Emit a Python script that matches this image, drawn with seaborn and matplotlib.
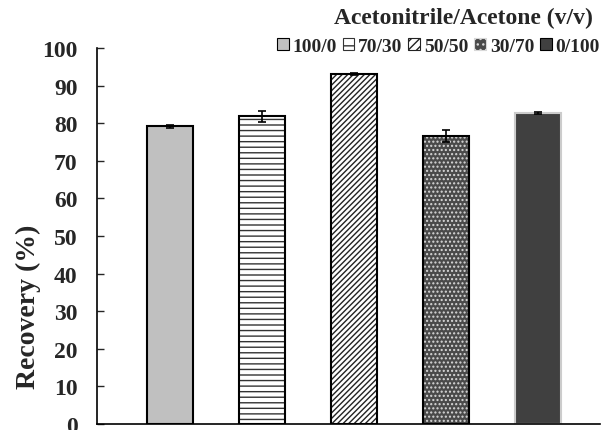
import numpy as np
import pandas as pd
import matplotlib
matplotlib.use('Agg')
import matplotlib.pyplot as plt
from matplotlib.patches import Patch
import seaborn as sns

# Data
ratios = ['100/0', '70/30', '50/50', '30/70', '0/100']
recovery = [79.2, 81.9, 93.2, 76.7, 82.7]
errors = [0.5, 1.4, 0.2, 1.6, 0.3]

faces = ['#c0c0c0', 'white', 'white', '#4a4a4a', '#404040']
hatches = ['', '---', '//////', '....', '']
hatch_cols = ['black', '#333333', '#222222', '#d8d8d8', 'black']

sns.set_style('white')
plt.rcParams['font.family'] = ['Liberation Serif', 'DejaVu Serif']
plt.rcParams['font.weight'] = 'bold'
plt.rcParams['hatch.linewidth'] = 1.0

df = pd.DataFrame({'ratio': ratios, 'recovery': recovery})

fig = plt.figure(figsize=(6.14, 4.31), dpi=100)
ax = fig.add_axes([0.158, 0.0146, 0.819, 0.871])

sns.barplot(data=df, x='ratio', y='recovery', order=ratios, width=0.5,
            color='white', errorbar=None, ax=ax)

for p, fc, h, hc in zip(ax.patches, faces, hatches, hatch_cols):
    p.set_facecolor(fc)
    p.set_hatch(h)
    p.set_edgecolor(hc)
    p.set_linewidth(0)
    # outline on top of the hatched patch
    outline = plt.Rectangle(p.get_xy(), p.get_width(), p.get_height(),
                            fill=False, edgecolor='black' if fc != '#404040' else '#cccccc',
                            linewidth=1.5, zorder=p.get_zorder() + 0.1)
    ax.add_patch(outline)

ax.errorbar(x=np.arange(len(ratios)), y=recovery, yerr=errors, fmt='none',
            ecolor='black', elinewidth=1.2, capsize=3, capthick=1.2, zorder=5)

ax.set_xlim(-0.79, 4.67)
ax.set_ylim(0, 100)
ax.set_yticks(range(0, 101, 10))
ax.set_xticks([])
ax.set_xlabel('')
ax.set_ylabel('Recovery (%)', fontsize=20, fontweight='bold', va='center')
ax.yaxis.set_label_coords(-0.137, 0.313)
ax.tick_params(axis='y', direction='in', length=5, width=1, left=True,
               labelsize=17, pad=14)
for lab in ax.get_yticklabels():
    lab.set_fontweight('bold')

for s in ['top', 'right']:
    ax.spines[s].set_visible(False)
for s in ['left', 'bottom']:
    ax.spines[s].set_color('black')
    ax.spines[s].set_linewidth(1.2)

handles = [Patch(facecolor=fc, edgecolor=hc, hatch=h, linewidth=0.8)
           for fc, h, hc in zip(faces, ['', '--', '////', '...', ''], hatch_cols)]
leg = ax.legend(handles, ratios, ncol=5, loc='center right',
                bbox_to_anchor=(1.0, 1.006), frameon=False,
                prop={'family': 'Liberation Serif', 'weight': 'bold', 'size': 14},
                handlelength=0.6, handleheight=0.6, handletextpad=0.2,
                columnspacing=0.3, borderaxespad=0, borderpad=0)
fig.text(0.966, 0.958, 'Acetonitrile/Acetone (v/v)', ha='right', va='center',
         fontsize=17, fontweight='bold')

fig.savefig('out.png', dpi=100)
